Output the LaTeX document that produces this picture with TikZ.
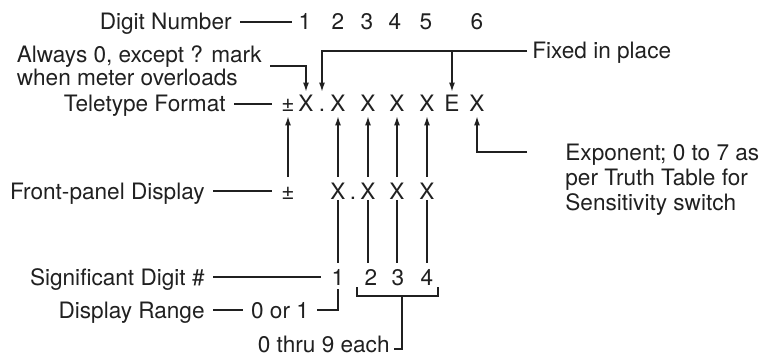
\documentclass[tikz,border=0pt]{standalone}
\usepackage{fontspec}
\setmainfont{TeX Gyre Heros}
\usepackage{xcolor}
\usepackage{tikz}
\usetikzlibrary{arrows.meta}
\definecolor{figline}{RGB}{32,32,32}
\newcommand{\figfont}{\fontsize{11.3}{11.5}\selectfont}
\tikzset{
  lab/.style ={font=\figfont, text=figline, inner xsep=4pt, inner ysep=0pt, text height=8pt, text depth=0pt},
  chr/.style ={font=\figfont, text=figline, inner sep=0pt, text height=8pt, text depth=0pt},
  note/.style={font=\figfont, text=figline, inner xsep=4pt, inner ysep=0pt, align=left},
  ln/.style  ={draw=figline, line width=0.65pt},
  ptr/.style ={ln, -{Latex[length=4.5pt,width=3pt]}},
}
\begin{document}
\begin{tikzpicture}[x=0.5pt,y=-0.5pt]
  \useasboundingbox (0,0) rectangle (764,358);
  \node[lab,anchor=east] (lbl-dn) at (240,22) {Digit Number};
  \node[chr] (dn1) at (305,22) {1};
  \node[chr] (dn2) at (338,22) {2};
  \node[chr] (dn3) at (367,22) {3};
  \node[chr] (dn4) at (395,22) {4};
  \node[chr] (dn5) at (426,22) {5};
  \node[chr] (dn6) at (477,22) {6};
  \draw[ln,shorten >=3pt] (lbl-dn.east) -- (dn1.west);
  \node[note,anchor=east] (always) at (270,66) {Always 0, except ? mark\\when meter overloads};
  \node[lab,anchor=west,inner xsep=2.5pt] (fixed) at (527,51) {Fixed in place};
  \node[lab,anchor=east] (lbl-tt) at (234,104) {Teletype Format};
  \node[chr] (tt-pm) at (288,104) {±};
  \node[chr] (tt-x1) at (306,104) {X};
  \node[chr] (tt-dp) at (322,104) {.};
  \node[chr] (tt-x2) at (338,104) {X};
  \node[chr] (tt-x3) at (368,104) {X};
  \node[chr] (tt-x4) at (397,104) {X};
  \node[chr] (tt-x5) at (427,104) {X};
  \node[chr] (tt-e)  at (452,104) {E};
  \node[chr] (tt-x6) at (477,104) {X};
  \draw[ln,shorten >=4.7pt] (lbl-tt.east) -- (tt-pm.west);
  \draw[ptr,shorten >=2pt] (always.east) -| (tt-x1.north);
  \draw[ptr,shorten >=2pt] (fixed.west) -| (tt-dp.north);
  \draw[ptr,shorten >=2pt] (tt-e.north |- fixed.west) -- (tt-e.north);
  \node[note,anchor=north west,inner xsep=0pt,font=\fontsize{11.3}{12.5}\selectfont] (exp) at (565,144)
    {Exponent; 0 to 7 as\\per Truth Table for\\Sensitivity switch};
  \draw[ptr,shorten >=2pt] ([xshift=-19pt,yshift=-4pt]exp.north west) -| (tt-x6.south);
  \node[lab,anchor=east] (lbl-fp) at (213,191) {Front-panel Display};
  \node[chr] (fp-pm) at (288,191) {±};
  \node[chr] (fp-x1) at (338,191) {X};
  \node[chr] (fp-dp) at (353,191) {.};
  \node[chr] (fp-x2) at (368,191) {X};
  \node[chr] (fp-x3) at (397,191) {X};
  \node[chr] (fp-x4) at (427,191) {X};
  \draw[ln,shorten >=4.7pt] (lbl-fp.east) -- (fp-pm.west);
  \draw[ptr,shorten <=3pt,shorten >=2pt] (fp-pm.north) -- (tt-pm.south);
  \draw[ptr,shorten <=3pt,shorten >=2pt] (fp-x1.north) -- (tt-x2.south);
  \draw[ptr,shorten <=3pt,shorten >=2pt] (fp-x2.north) -- (tt-x3.south);
  \draw[ptr,shorten <=3pt,shorten >=2pt] (fp-x3.north) -- (tt-x4.south);
  \draw[ptr,shorten <=3pt,shorten >=2pt] (fp-x4.north) -- (tt-x5.south);
  \node[lab,anchor=east] (lbl-sd) at (213,277) {Significant Digit \#};
  \node[chr] (sd1) at (338,277) {1};
  \node[chr] (sd2) at (371,277) {2};
  \node[chr] (sd3) at (398,277) {3};
  \node[chr] (sd4) at (427,277) {4};
  \draw[ln,shorten >=5pt] (lbl-sd.east) -- (sd1.west);
  \draw[ln,shorten <=0.5pt,shorten >=3pt] (fp-x1.south) -- (sd1.north);
  \draw[ln,shorten <=0.5pt,shorten >=3pt] (fp-x2.south) -- (fp-x2.south |- sd2.north);
  \draw[ln,shorten <=0.5pt,shorten >=3pt] (fp-x3.south) -- (fp-x3.south |- sd3.north);
  \draw[ln,shorten <=0.5pt,shorten >=3pt] (fp-x4.south) -- (sd4.north);
  \node[lab,anchor=east] (lbl-dr) at (213,310) {Display Range};
  \node[lab] (range) at (280,310) {0 or 1};
  \draw[ln] (lbl-dr.east) -- (range.west);
  \draw[ln,shorten >=2pt] (range.east) -| (sd1.south);
  \coordinate (br-l) at (357,296);
  \coordinate (br-m) at (402,296);
  \coordinate (br-r) at (438,296);
  \draw[ln,shorten <=1pt,shorten >=1pt] (br-l |- sd2.south) -- (br-l) -- (br-r) -- (br-r |- sd4.south);
  \node[lab,anchor=east,inner xsep=2pt] (each) at (394,344) {0 thru 9 each};
  \draw[ln] (br-m) |- ([yshift=-2.5pt]each.east);
\end{tikzpicture}
\end{document}
